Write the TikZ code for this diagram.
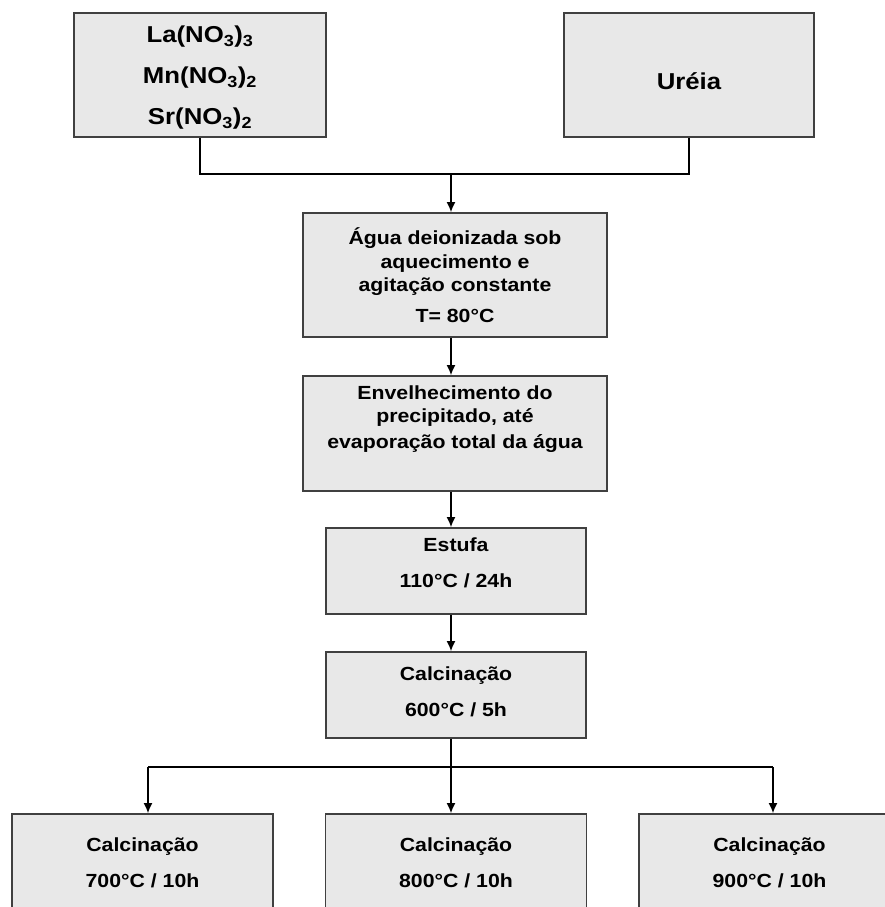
\documentclass[tikz,border=0pt]{standalone}
\usepackage{fontspec}
\setmainfont{Liberation Sans}[FakeStretch=1.12]
\usetikzlibrary{arrows.meta}
\begin{document}
\begin{tikzpicture}[x=1pt,y=-1pt,line width=1.4pt,
		box/.style={draw=black!75,fill=black!9,line width=1.8pt,align=center,inner sep=0pt,font=\bfseries\fontsize{19}{23.5}\selectfont},
		bigtxt/.style={font=\bfseries\fontsize{23}{28}\selectfont},
		arr/.style={-{Latex[length=10pt,width=9pt]}}]
	\useasboundingbox (0,0) rectangle (885,907);
	\clip (0,0) rectangle (885,907);
		\node[box,bigtxt,minimum width=252pt,minimum height=124pt,text depth=0pt] (sais) at (200,75) {La(NO\textsubscript{3})\textsubscript{3}\\[13pt]Mn(NO\textsubscript{3})\textsubscript{2}\\[13pt]Sr(NO\textsubscript{3})\textsubscript{2}};
		\node[box,bigtxt,minimum width=250pt,minimum height=124pt,text height=30pt] (ureia) at (689,75) {Uréia};
		\node[box,minimum width=304pt,minimum height=124pt] (agua) at (455,275) {Água deionizada sob\\aquecimento e\\agitação constante\\[7pt]T= 80°C};
		\node[box,minimum width=304pt,minimum height=115pt,text depth=33pt] (envelh) at (455,433.5) {Envelhecimento do\\precipitado, até\\[2pt]evaporação total da água};
		\node[box,minimum width=260pt,minimum height=86pt,text depth=17pt] (estufa) at (456,571) {Estufa\\[12pt]110°C / 24h};
		\node[box,minimum width=260pt,minimum height=86pt,text depth=7pt] (calc600) at (456,695) {Calcinação\\[13pt]600°C / 5h};
		\node[box,minimum width=261pt,minimum height=98pt] (c700) at (142.5,863) {Calcinação\\[13pt]700°C / 10h};
		\node[box,minimum width=261pt,minimum height=98pt] (c800) at (456,863) {Calcinação\\[13pt]800°C / 10h};
		\node[box,minimum width=261pt,minimum height=98pt] (c900) at (769.5,863) {Calcinação\\[13pt]900°C / 10h};
		\coordinate (join) at (451,174);
		\draw (sais.south) |- (join) -| (ureia.south);
		\draw[arr] (join) -- (join |- agua.north);
		\draw[arr] (agua.south -| join) -- (envelh.north -| join);
		\draw[arr] (envelh.south -| join) -- (estufa.north -| join);
		\draw[arr] (estufa.south -| join) -- (calc600.north -| join);
		\coordinate (split) at (451,767);
		\coordinate (sl) at (148,767);
		\coordinate (sr) at (773,767);
		\draw (calc600.south -| split) -- (split);
		\draw (sl) -- (sr);
		\draw[arr] (sl) -- (sl |- c700.north);
		\draw[arr] (split) -- (split |- c800.north);
		\draw[arr] (sr) -- (sr |- c900.north);
	\end{tikzpicture}
\end{document}
